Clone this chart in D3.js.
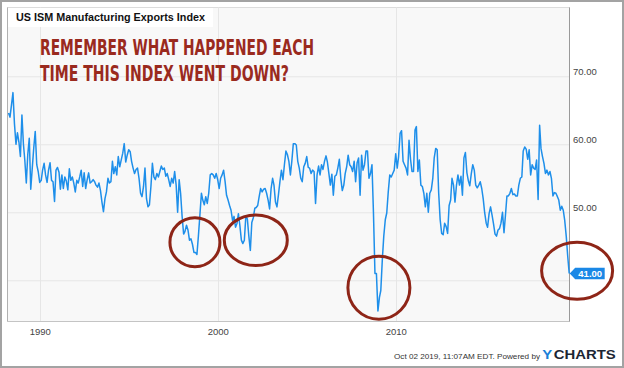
<!DOCTYPE html>
<html>
<head>
<meta charset="utf-8">
<script src="https://cdn.jsdelivr.net/npm/d3@7"></script>
<style>
  html, body { margin: 0; padding: 0; background: #fff; }
  svg { display: block; font-family: "Liberation Sans", Arial, Helvetica, sans-serif; }
</style>
</head>
<body>
<div id="chart"></div>
<script>
// Monthly index values, month-end, starting March 1988
const startMonth = [1988, 2];
const exportsIndex = [
  64.6, 64.0, 65.8, 67.6, 63.0, 60.0, 61.7, 60.3, 58.2,
  64.3, 60.0, 57.7, 54.3, 58.5, 60.9, 53.4, 56.5, 59.5, 61.9, 57.0, 56.0,
  54.4, 54.7, 56.2, 57.2, 55.5, 54.4, 56.2, 57.3, 54.7, 54.5, 51.6, 56.2,
  56.6, 55.9, 53.4, 55.5, 53.5, 55.2, 54.6, 53.3, 56.4, 54.7, 55.2, 54.3,
  53.0, 54.7, 54.3, 55.2, 56.2, 53.8, 55.8, 53.5, 54.8, 55.8, 54.3, 54.5,
  54.8, 54.5, 54.0, 53.7, 54.3, 53.2, 51.5, 50.1, 52.0, 53.0, 55.0, 54.3,
  54.5, 57.5, 55.7, 56.7, 55.5, 58.2, 56.7, 57.7, 58.7, 60.1, 57.4, 58.4,
  59.2, 58.9, 57.5, 56.5, 55.7, 56.3, 56.5, 55.0, 52.8, 52.3, 53.8, 56.5,
  52.0, 50.8, 51.1, 53.8, 57.2, 55.2, 54.8, 55.7, 55.2, 56.0, 56.8, 56.3,
  56.5, 55.3, 55.7, 54.8, 53.8, 55.0, 54.3, 56.0, 54.0, 50.0, 54.8, 52.8,
  49.4, 46.8, 47.2, 48.1, 47.4, 45.9, 46.1, 45.3, 44.1, 44.1, 43.8, 46.5,
  49.6, 52.8, 51.8, 51.1, 52.3, 51.3, 52.8, 55.5, 55.7, 55.5, 55.0, 55.7,
  54.8, 53.5, 55.0, 55.5, 56.2, 54.5, 52.5, 51.8, 51.0, 50.3, 48.8, 49.4,
  47.8, 48.4, 49.8, 48.0, 45.9, 45.4, 45.9, 49.5, 49.0, 46.5, 44.4, 48.5,
  49.2, 50.6, 50.7, 51.0, 52.3, 53.5, 53.0, 53.4, 53.5, 52.8, 51.8, 50.5,
  53.5, 55.0, 54.0, 51.5, 50.8, 52.6, 54.5, 56.2, 54.8, 57.0, 59.0, 58.5,
  57.5, 55.5, 57.5, 60.1, 60.1, 59.9, 57.5, 56.5, 55.0, 54.5, 56.7, 57.2,
  58.2, 56.6, 56.5, 55.7, 56.2, 56.0, 51.3, 55.5, 56.8, 55.5, 57.0, 56.3,
  57.5, 58.3, 57.4, 55.7, 54.0, 55.6, 52.5, 55.3, 55.5, 56.5, 57.8, 55.0,
  53.2, 54.0, 55.7, 56.7, 58.4, 57.0, 56.7, 56.0, 57.5, 54.5, 57.3, 58.0,
  52.5, 58.4, 56.2, 57.0, 59.0, 59.0, 55.0, 55.7, 57.0, 50.0, 41.0, 41.0,
  35.5, 37.5, 38.5, 43.0, 46.5, 48.9, 49.9, 53.0, 55.5, 55.2, 55.7, 56.2,
  58.6, 56.5, 58.2, 61.6, 62.0, 57.5, 57.0, 56.5, 55.5, 60.6, 57.8, 56.0,
  56.0, 62.1, 62.6, 56.0, 57.7, 54.0, 53.8, 52.8, 50.8, 52.8, 50.0, 52.8,
  53.3, 55.0, 58.0, 59.4, 59.2, 52.8, 48.9, 46.9, 46.7, 48.4, 47.9, 46.9,
  51.0, 51.8, 55.0, 54.0, 51.5, 54.0, 55.5, 54.0, 55.3, 52.5, 58.0, 58.8,
  55.8, 54.6, 53.9, 55.7, 57.0, 56.2, 54.0, 53.6, 54.0, 54.5, 53.5, 52.0,
  49.9, 48.4, 47.8, 49.8, 50.8, 49.6, 48.3, 46.8, 46.5, 47.4, 47.6, 48.4,
  50.0, 47.0, 49.5, 52.4, 52.4, 52.8, 53.5, 52.6, 52.7, 52.4, 52.4, 54.0,
  55.0, 55.2, 59.0, 59.6, 59.3, 57.8, 59.2, 55.5, 57.0, 56.5, 56.3, 57.7,
  51.9, 62.8, 59.4, 58.2, 57.2, 55.7, 56.2, 55.5, 56.0, 55.0, 52.4, 52.9,
  52.8, 52.3, 51.8, 50.3, 50.9, 50.3, 48.8, 46.5, 43.5, 41.0
];
const yTicks = [50, 60, 70];
const yGrid = [40, 50, 60, 70];

// the hand-drawn rings (date, value at centre)
const ringDates = ["1998-09-20", "2002-02-20", "2009-01-20", "2020-03-10"];
const ringValues = [45.6, 45.9, 38.9, 41.4];

const titleText = "US ISM Manufacturing Exports Index";
const noteLines = ["REMEMBER WHAT HAPPENED EACH", "TIME THIS INDEX WENT DOWN?"];
const footerText = "Oct 02 2019, 11:07AM EDT.  Powered by";

const W = 624, H = 368;
const plot = { left: 7.5, top: 7.5, right: 569.5, bottom: 321.5 };
const ringSize = [[25, 24.5], [31.5, 25.3], [31, 31.5], [35.5, 28.5]];
const lineColor = "#1e8fea";
const red = "#9a2a1e";

const data = exportsIndex.map((v, i) => ({
  date: new Date(startMonth[0], startMonth[1] + i + 1, 0),
  value: v,
}));

const svg = d3.select("#chart").append("svg")
  .attr("width", W).attr("height", H);

svg.append("rect")
  .attr("x", 1).attr("y", 1).attr("width", W - 2).attr("height", H - 2)
  .attr("fill", "#fff").attr("stroke", "#a3a3a3").attr("stroke-width", 2);

const x = d3.scaleTime()
  .domain([new Date(1988, 2, 10), new Date(2019, 9, 6)])
  .range([plot.left, plot.right]);

const y = d3.scaleLinear()
  .domain([33.94, 80.12])
  .range([plot.bottom, plot.top]);

// plot panel
svg.append("rect")
  .attr("x", plot.left).attr("y", plot.top)
  .attr("width", plot.right - plot.left).attr("height", plot.bottom - plot.top)
  .attr("fill", "#f8f8f8").attr("stroke", "#dcdcdc");

// grid
svg.append("g").selectAll("line.hg").data(yGrid).join("line")
  .attr("x1", plot.left).attr("x2", plot.right)
  .attr("y1", (d) => y(d) + 0.5).attr("y2", (d) => y(d) + 0.5)
  .attr("stroke", "#e6e6e6");

const xTicks = x.ticks(d3.timeYear.every(10));
svg.append("g").selectAll("line.vg").data(xTicks).join("line")
  .attr("x1", (d) => Math.round(x(d)) + 0.5).attr("x2", (d) => Math.round(x(d)) + 0.5)
  .attr("y1", plot.top).attr("y2", plot.bottom)
  .attr("stroke", "#e6e6e6");

// panel edges
svg.append("line")
  .attr("x1", plot.left).attr("x2", plot.left)
  .attr("y1", plot.top).attr("y2", plot.bottom)
  .attr("stroke", "#b0b0b0");
svg.append("line")
  .attr("x1", plot.left).attr("x2", plot.right)
  .attr("y1", plot.bottom).attr("y2", plot.bottom)
  .attr("stroke", "#c4c4c4");
svg.append("line")
  .attr("x1", plot.right).attr("x2", plot.right)
  .attr("y1", plot.top).attr("y2", plot.bottom)
  .attr("stroke", "#9a9a9a");

// axes
const yAxis = svg.append("g")
  .attr("transform", `translate(${plot.right},0)`)
  .call(d3.axisRight(y).tickValues(yTicks).tickSize(0).tickFormat(d3.format(".2f")));
yAxis.select(".domain").remove();
yAxis.selectAll("text")
  .attr("x", 3.5).attr("y", -1.5).attr("dy", 0)
  .attr("fill", "#444").style("font-size", "9.5px")
  .style("font-family", "'Liberation Sans', Arial, sans-serif");

const xAxis = svg.append("g")
  .attr("transform", `translate(0,${plot.bottom})`)
  .call(d3.axisBottom(x).tickValues(xTicks).tickSize(0).tickPadding(7)
    .tickFormat(d3.timeFormat("%Y")));
xAxis.select(".domain").remove();
xAxis.selectAll("text")
  .attr("fill", "#444").style("font-size", "9.5px")
  .style("font-family", "'Liberation Sans', Arial, sans-serif");

// series line
const line = d3.line()
  .x((d) => x(d.date))
  .y((d) => y(d.value));

svg.append("path")
  .datum(data)
  .attr("d", line)
  .attr("fill", "none")
  .attr("stroke", lineColor)
  .attr("stroke-width", 1.5)
  .attr("stroke-linejoin", "round");

// title box
svg.append("rect")
  .attr("x", plot.left + 0.5).attr("y", plot.top + 0.5)
  .attr("width", 205).attr("height", 19)
  .attr("fill", "#fff");
svg.append("text")
  .attr("x", 16).attr("y", 20.5)
  .attr("fill", "#111")
  .style("font-size", "11px").style("font-weight", "bold")
  .attr("textLength", 189).attr("lengthAdjust", "spacingAndGlyphs")
  .text(titleText);

// red annotation
const noteWidths = [274, 249];
svg.selectAll("text.note").data(noteLines).join("text")
  .attr("class", "note")
  .attr("x", 40).attr("y", (d, i) => 55 + i * 26)
  .attr("fill", red)
  .style("font-family", "'Liberation Sans Narrow', 'DejaVu Sans Condensed', 'Arial Narrow', sans-serif")
  .style("font-stretch", "condensed")
  .style("font-weight", "bold")
  .style("font-size", "22px")
  .attr("textLength", (d, i) => noteWidths[i])
  .attr("lengthAdjust", "spacingAndGlyphs")
  .text((d) => d);

// rings
const parseDay = d3.timeParse("%Y-%m-%d");
svg.append("g").selectAll("ellipse").data(ringDates).join("ellipse")
  .attr("cx", (d) => x(parseDay(d)))
  .attr("cy", (d, i) => y(ringValues[i]))
  .attr("rx", (d, i) => ringSize[i][0])
  .attr("ry", (d, i) => ringSize[i][1])
  .attr("fill", "none")
  .attr("stroke", "#8e2517")
  .attr("stroke-width", 3);

// last value flag
const last = data[data.length - 1];
const lx = x(last.date) + 0.5, ly = y(last.value);
svg.append("path")
  .attr("d", `M${lx},${ly} L${lx + 5.5},${ly - 5.75} H${lx + 35} V${ly + 5.75} H${lx + 5.5} Z`)
  .attr("fill", "#1a88e6");
svg.append("text")
  .attr("x", lx + 20.5).attr("y", ly + 3.4)
  .attr("text-anchor", "middle")
  .attr("fill", "#fff")
  .style("font-size", "9.5px").style("font-weight", "bold")
  .text(d3.format(".2f")(last.value));

// footer
svg.append("text")
  .attr("x", 394).attr("y", 358.5)
  .attr("fill", "#333")
  .style("font-size", "8px")
  .attr("textLength", 146).attr("lengthAdjust", "spacingAndGlyphs")
  .text(footerText);
svg.append("text")
  .attr("x", 542.3).attr("y", 359.3)
  .attr("fill", "#1a7fd8")
  .style("font-size", "12.5px").style("font-weight", "bold")
  .attr("textLength", 10).attr("lengthAdjust", "spacingAndGlyphs")
  .text("Y");
svg.append("text")
  .attr("x", 553.7).attr("y", 359.3)
  .attr("fill", "#1c2633")
  .style("font-size", "12.5px").style("font-weight", "bold")
  .attr("textLength", 62).attr("lengthAdjust", "spacingAndGlyphs")
  .text("CHARTS");
</script>
</body>
</html>
